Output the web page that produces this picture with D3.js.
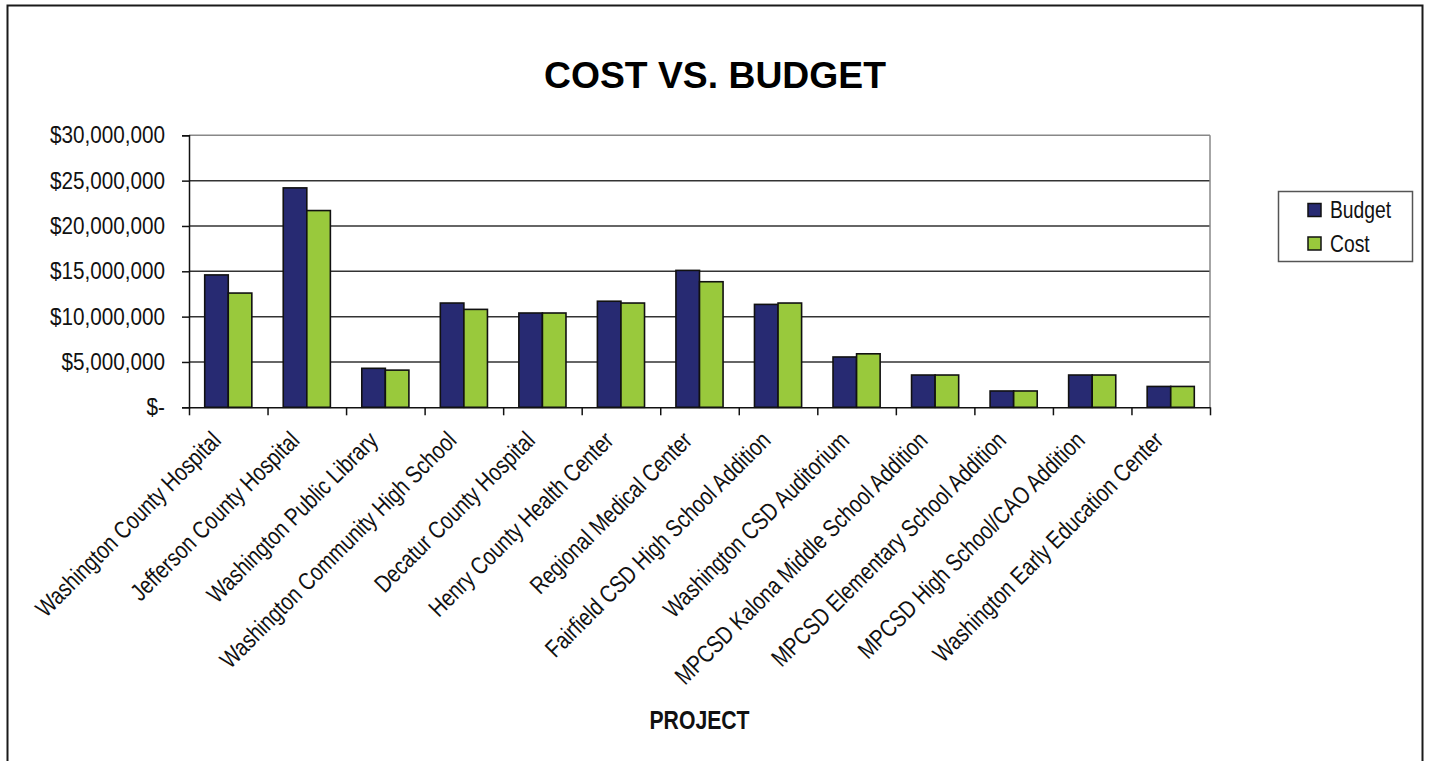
<!DOCTYPE html>
<html>
<head>
<meta charset="utf-8">
<script src="https://cdn.jsdelivr.net/npm/d3@7"></script>
<style>
  body { margin: 0; background: #fff; }
  svg { display: block; }
  text { font-family: "Liberation Sans", Arial, sans-serif; }
</style>
</head>
<body>
<svg id="chart"></svg>
<script>
// chart values
const projects = [
  "Washington County Hospital",
  "Jefferson County Hospital",
  "Washington Public Library",
  "Washington Community High School",
  "Decatur County Hospital",
  "Henry County Health Center",
  "Regional Medical Center",
  "Fairfield CSD High School Addition",
  "Washington CSD Auditorium",
  "MPCSD Kalona Middle School Addition",
  "MPCSD Elementary School Addition",
  "MPCSD High School/CAO Addition",
  "Washington Early Education Center"
];
const budget = [14600000, 24200000, 4300000, 11500000, 10400000, 11700000, 15100000,
                11350000, 5550000, 3560000, 1800000, 3560000, 2300000];
const cost   = [12600000, 21700000, 4100000, 10800000, 10400000, 11500000, 13850000,
                11500000, 5900000, 3560000, 1800000, 3560000, 2300000];
const seriesNames = ["Budget", "Cost"];
const yTicks = [0, 5000000, 10000000, 15000000, 20000000, 25000000, 30000000];

const W = 1429, H = 761;
const plot = {left: 189, right: 1210, top: 135.3, bottom: 407.3};
const colors = {Budget: "#272a72", Cost: "#99c93c"};

const svg = d3.select("#chart").attr("width", W).attr("height", H);

// outer frame
svg.append("rect")
  .attr("x", 7.5).attr("y", 5.5)
  .attr("width", 1415).attr("height", 800)
  .attr("fill", "none").attr("stroke", "#1a1a1a").attr("stroke-width", 2);

// title
svg.append("text")
  .attr("x", 715).attr("y", 88)
  .attr("text-anchor", "middle")
  .attr("font-weight", "bold")
  .attr("font-size", 37)
  .attr("textLength", 342)
  .attr("lengthAdjust", "spacingAndGlyphs")
  .text("COST VS. BUDGET");

const data = projects.map((p, i) => ({project: p, Budget: budget[i], Cost: cost[i]}));

const x = d3.scaleBand()
  .domain(projects)
  .range([plot.left, plot.right])
  .paddingInner(0.4)
  .paddingOuter(0.2);

const xSub = d3.scaleBand()
  .domain(seriesNames)
  .range([0, x.bandwidth()]);

const y = d3.scaleLinear()
  .domain([0, 30000000])
  .range([plot.bottom, plot.top]);

// category boundary ticks
const xEdge = d3.scaleLinear()
  .domain([0, projects.length])
  .range([plot.left, plot.right]);

// gridlines
svg.append("g")
  .selectAll("line")
  .data(yTicks.filter(d => d > 0))
  .join("line")
    .attr("x1", plot.left).attr("x2", plot.right)
    .attr("y1", d => y(d)).attr("y2", d => y(d))
    .attr("stroke", d => d === 30000000 ? "#888" : "#333")
    .attr("stroke-width", 1.5);

// plot area right border
svg.append("line")
  .attr("x1", plot.right).attr("x2", plot.right)
  .attr("y1", plot.top).attr("y2", plot.bottom)
  .attr("stroke", "#888").attr("stroke-width", 1.5);

// bars
svg.append("g")
  .selectAll("g")
  .data(data)
  .join("g")
    .attr("transform", d => `translate(${x(d.project)},0)`)
  .selectAll("rect")
  .data(d => seriesNames.map(k => ({key: k, value: d[k]})))
  .join("rect")
    .attr("x", d => xSub(d.key))
    .attr("y", d => y(d.value))
    .attr("width", xSub.bandwidth())
    .attr("height", d => plot.bottom - y(d.value))
    .attr("fill", d => colors[d.key])
    .attr("stroke", "#111")
    .attr("stroke-width", 1.6);

// y axis
const yAxis = d3.axisLeft(y)
  .tickValues(yTicks)
  .tickSize(7)
  .tickPadding(17)
  .tickFormat(d => d === 0 ? "$-" : d3.format("$,")(d));

const yAxisG = svg.append("g")
  .attr("transform", `translate(${plot.left},0)`)
  .call(yAxis);
yAxisG.select(".domain").attr("stroke", "#111").attr("stroke-width", 1.5);
yAxisG.selectAll(".tick line").attr("stroke", "#111").attr("stroke-width", 1.5);
yAxisG.selectAll(".tick text")
  .attr("font-family", null)
  .attr("font-size", 23)
  .attr("fill", "#111")
  .attr("transform", "translate(-24,0) scale(0.9,1)")
  .attr("x", 0);

// x axis line and boundary ticks
const xAxisG = svg.append("g")
  .attr("transform", `translate(0,${plot.bottom})`)
  .call(d3.axisBottom(xEdge)
    .tickValues(d3.range(projects.length + 1))
    .tickSize(8)
    .tickSizeOuter(0)
    .tickFormat(""));
xAxisG.select(".domain").attr("stroke", "#111").attr("stroke-width", 1.5);
xAxisG.selectAll(".tick line").attr("stroke", "#111").attr("stroke-width", 1.5);

// rotated category labels
svg.append("g")
  .selectAll("text")
  .data(projects)
  .join("text")
    .attr("transform", d => `translate(${x(d) + x.bandwidth() / 2 - 6},442) rotate(-45) scale(0.81,1)`)
    .attr("text-anchor", "end")
    .attr("font-size", 24.5)
    .attr("fill", "#111")
    .text(d => d);

// x axis title
svg.append("text")
  .attr("transform", `translate(${(plot.left + plot.right) / 2},728.5) scale(0.8,1)`)
  .attr("text-anchor", "middle")
  .attr("font-weight", "bold")
  .attr("font-size", 26.5)
  .attr("fill", "#111")
  .text("PROJECT");

// legend
const legend = svg.append("g");
legend.append("rect")
  .attr("x", 1278.5).attr("y", 191.5)
  .attr("width", 134).attr("height", 70)
  .attr("fill", "#fff").attr("stroke", "#555").attr("stroke-width", 1.5);

const items = legend.selectAll("g.item")
  .data(seriesNames)
  .join("g")
    .attr("class", "item")
    .attr("transform", (d, i) => `translate(1308,${203.5 + i * 33.5})`);
items.append("rect")
  .attr("width", 13).attr("height", 13)
  .attr("fill", d => colors[d])
  .attr("stroke", "#111").attr("stroke-width", 1.5);
items.append("text")
  .attr("transform", "translate(22,14.5) scale(0.84,1)")
  .attr("font-size", 23)
  .attr("fill", "#111")
  .text(d => d);
</script>
</body>
</html>
